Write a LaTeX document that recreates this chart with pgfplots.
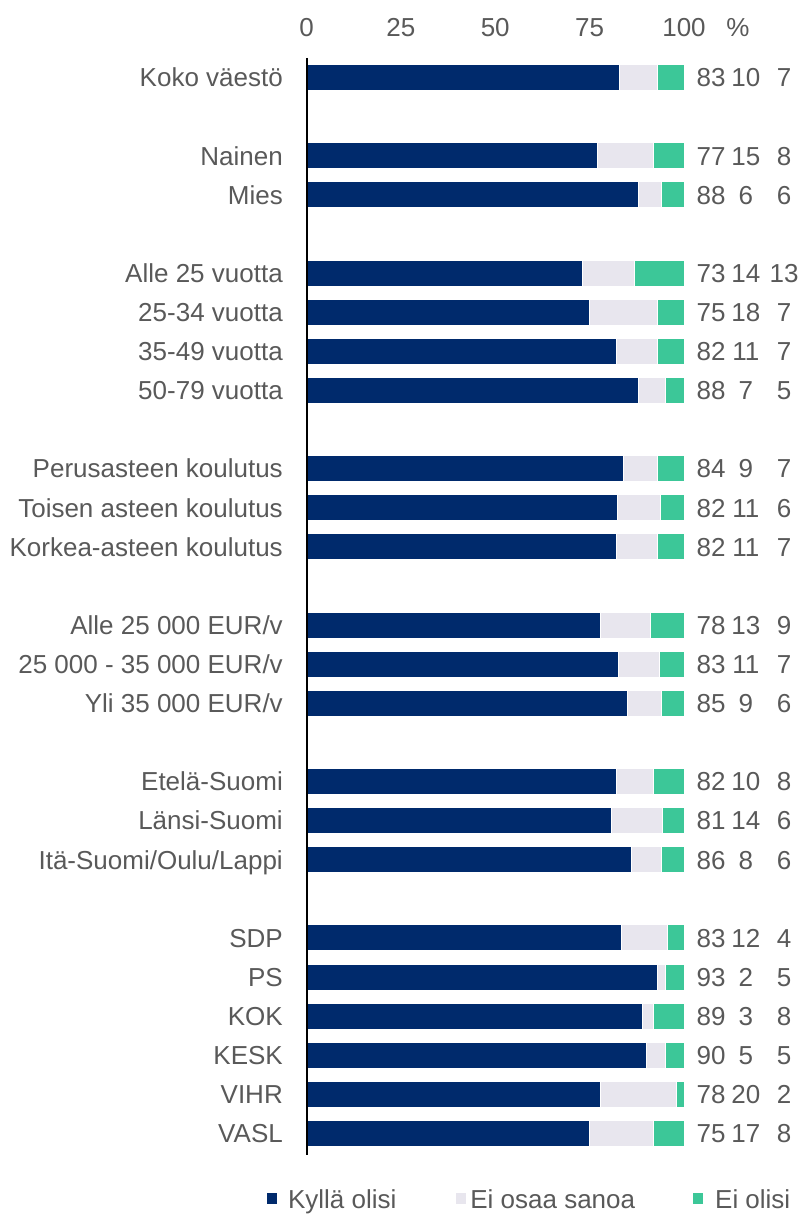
\documentclass[border=0pt]{standalone}
\usepackage{fontspec}
\setmainfont{Liberation Sans}
\usepackage{pgfplots}
\usepackage{pgfplotstable}
\pgfplotsset{compat=1.18}
\definecolor{cnavy}{RGB}{0,42,108}
\definecolor{clgrey}{RGB}{232,230,238}
\definecolor{cgreen}{RGB}{60,199,152}
\definecolor{ctxt}{RGB}{89,89,89}
\newcommand{\lab}{\fontsize{26}{30}\selectfont}

\pgfplotstableread{
y k e n kl el nl
0 83 10 7 83 10 7
-2 77 15 8 77 15 8
-3 88 6 6 88 6 6
-5 73 14 13 73 14 13
-6 75 18 7 75 18 7
-7 82 11 7 82 11 7
-8 88 7 5 88 7 5
-10 84 9 7 84 9 7
-11 82.4 11.3 6.3 82 11 6
-12 82 11 7 82 11 7
-14 78 13 9 78 13 9
-15 82.6 10.8 6.6 83 11 7
-16 85 9 6 85 9 6
-18 82 10 8 82 10 8
-19 80.8 13.6 5.6 81 14 6
-20 86 8 6 86 8 6
-22 83.4 12.3 4.3 83 12 4
-23 93 2 5 93 2 5
-24 89 3 8 89 3 8
-25 90 5 5 90 5 5
-26 78 20 2 78 20 2
-27 75 17 8 75 17 8
}\datatable

\begin{document}
\begin{tikzpicture}
\begin{axis}[
  name=main,
  at={(0,0)}, anchor=north west,
  scale only axis, width=377.5pt, height=1097pt,
  xmin=0, xmax=100, ymin=-27.55, ymax=0.5,
  xbar stacked, bar width=26pt,
  separate axis lines,
  axis x line*=top, axis y line*=left,
  x axis line style={draw=none},
  y axis line style={draw=none},
  major tick length=0pt,
  xtick={0,25,50,75,100}, xticklabels={0,25,50,75,100},
  xticklabel style={anchor=base, inner sep=0pt, yshift=21.7pt, font=\lab, text=ctxt},
  ytick={0,-2,-3,-5,-6,-7,-8,-10,-11,-12,-14,-15,-16,-18,-19,-20,-22,-23,-24,-25,-26,-27},
  yticklabels={Koko väestö,Nainen,Mies,Alle 25 vuotta,25-34 vuotta,35-49 vuotta,50-79 vuotta,Perusasteen koulutus,Toisen asteen koulutus,Korkea-asteen koulutus,Alle 25 000 EUR/v,25 000 - 35 000 EUR/v,Yli 35 000 EUR/v,Etelä-Suomi,Länsi-Suomi,Itä-Suomi/Oulu/Lappi,SDP,PS,KOK,KESK,VIHR,VASL},
  yticklabel style={anchor=base east, inner sep=0pt, xshift=-23.5pt, yshift=-9.3pt, font=\lab, text=ctxt},
  clip=false,
  legend columns=3,
  legend style={at={(-0.1046,-0.0405)}, anchor=west, draw=none, fill=none, font=\lab, text=ctxt,
    inner sep=0pt, outer sep=0pt,
    nodes={inner sep=0pt},
    /tikz/column 1/.style={column sep=11pt},
    /tikz/column 2/.style={column sep=60pt},
    /tikz/column 3/.style={column sep=4pt},
    /tikz/column 4/.style={column sep=58pt},
    /tikz/column 5/.style={column sep=12pt}},
]
\addplot[fill=cnavy, draw=white, line width=1pt, legend image code/.code={\fill[cnavy] (0pt,-4pt) rectangle (9pt,6pt);}] table[x=k, y=y] {\datatable};
\addlegendentry{Kyllä olisi}
\addplot[fill=clgrey, draw=white, line width=1pt, legend image code/.code={\fill[clgrey] (0pt,-4pt) rectangle (9pt,6pt);}] table[x=e, y=y] {\datatable};
\addlegendentry{Ei osaa sanoa}
\addplot[fill=cgreen, draw=white, line width=1pt, legend image code/.code={\fill[cgreen] (0pt,-4pt) rectangle (9pt,6pt);}] table[x=n, y=y] {\datatable};
\addlegendentry{Ei olisi}
\node[anchor=base, inner sep=0pt, font=\lab, text=ctxt] at (axis cs:114.3,0.5) [yshift=21.7pt] {\%};
\end{axis}
\begin{axis}[
  at={(main.north west)}, anchor=north west,
  scale only axis, width=377.5pt, height=1097pt,
  xmin=0, xmax=100, ymin=-27.55, ymax=0.5,
  hide axis, clip=false,
  nodes near coords,
  point meta=explicit symbolic,
  nodes near coords style={anchor=base, inner sep=0pt, yshift=-9.3pt, font=\lab, text=ctxt},
]
\addplot[only marks, mark=none] table[x expr=107.2, y=y, meta=kl] {\datatable};
\addplot[only marks, mark=none] table[x expr=116.4, y=y, meta=el] {\datatable};
\addplot[only marks, mark=none] table[x expr=126.5, y=y, meta=nl] {\datatable};
\end{axis}
\draw[black, line width=2pt] (main.north west) -- (main.south west);
\pgfresetboundingbox
\path ([shift={(-306.5pt,58pt)}]main.north west) rectangle ([shift={(494.5pt,-1156pt)}]main.north west);
\end{tikzpicture}
\end{document}
